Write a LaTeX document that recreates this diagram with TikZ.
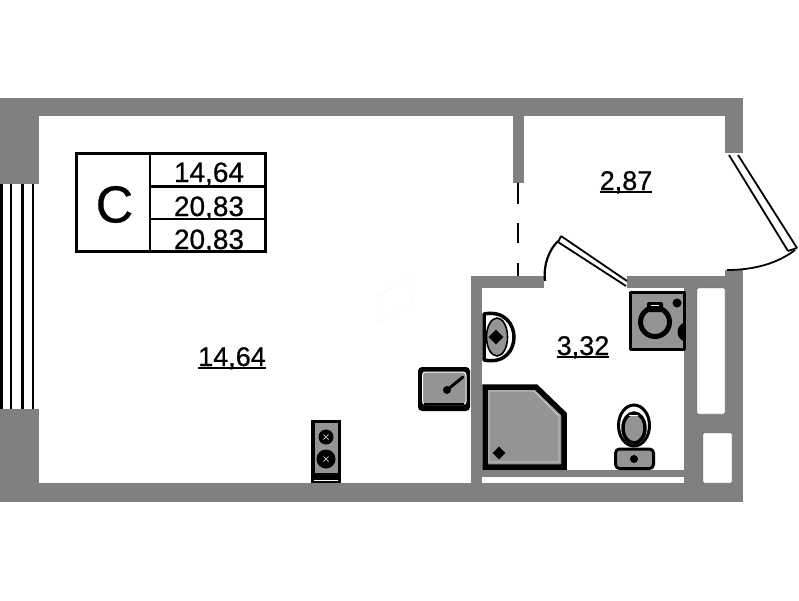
\documentclass[tikz,border=0pt]{standalone}
\usepackage{fontspec}
\setmainfont[RawFeature={embolden=0.6}]{Liberation Sans}
\usetikzlibrary{shapes.geometric}
\definecolor{wallgray}{gray}{0.5}
\definecolor{fixgray}{gray}{0.58}
\tikzset{
	wallpart/.style={fill=wallgray, draw=none},
	holepart/.style={fill=white, draw=wallgray!70!black, line width=0.4pt, rounded corners=1pt},
	fixture/.style={fill=fixgray, draw=black, line width=3pt, line join=round},
	tablenode/.style={font=\fontsize{28}{28}\selectfont, inner sep=0pt, anchor=base},
	arealabel/.style={font=\fontsize{27}{27}\selectfont, inner sep=0pt, anchor=base},
	underrule/.style={draw=black, line width=1.3pt},
	blackline/.style={draw=black, line width=1.8pt},
	winbar/.style={draw=black, line width=1.6pt},
	tablerule/.style={draw=black, line width=2.4pt}
}
\begin{document}
\begin{tikzpicture}[x=1pt, y=-1pt]
	\useasboundingbox (0,0) rectangle (799,600);

	\foreach \xa/\ya/\xb/\yb in {0/98/743/116, 0/116/39/184, 725/116/743/153, 513/116/524/183, 0/409/39/502, 0/483/743/502, 471/276/544/288, 471/288/482/483, 482/470/684/477, 627/276/743/288, 725/270/743/288, 684/288/743/502}
		\fill[wallpart] (\xa,\ya) rectangle (\xb,\yb);
	\draw[holepart] (697,288) rectangle (725,414);
	\draw[holepart] (703,433) rectangle (732,483);

	\foreach \x/\w in {1.5/3, 11/2, 22.5/2.6, 33/1.6}
		\draw[winbar, line width=\w pt] (\x,184) -- (\x,409);

	\draw[gray!12, line width=0.6pt, dash pattern=on 3pt off 3pt] (378,295) -- (410,278) -- (412,305) -- (378,322) -- cycle;

	\draw[blackline] (518,183) -- (518,204);
	\draw[blackline] (518,223) -- (518,243);
	\draw[blackline] (518,263) -- (518,276);

	\draw[blackline] (729,155) -- (788,251);
	\draw[blackline] (738,155) -- (797,248);
	\draw[blackline] (788,251) -- (797,248);
	\draw[blackline] (795,250) .. controls (778,263) and (755,270) .. (727,270);

	\draw[blackline] (561,236) -- (627,281);
	\draw[blackline] (558,242) -- (626,286);
	\draw[blackline] (561,236) -- (558,242);
	\draw[blackline, line width=2.2pt] (558,241) .. controls (549,250) and (543,265) .. (545,281);

	\fill[black, rounded corners=4pt] (418,367) rectangle (470,411);
	\draw[white, line width=1pt, fill=fixgray, rounded corners=3pt] (422.5,372) rectangle (466,404.5);
	\fill[black] (424,402.5) rectangle (464,404.5);
	\draw[black, line width=3pt, line cap=round] (447,390) -- (463,377);
	\fill[black] (447,390) circle (4);

	\draw[fixture, fill=white, line width=3.5pt] (484,314) .. controls (505,310) and (514,325) .. (514,337) .. controls (514,350) and (505,364) .. (484,360) -- cycle;
	\draw[black, line width=1.6pt, fill=fixgray] (497,337) ellipse (10.5 and 19);
	\node[diamond, fill=black, minimum size=15pt, inner sep=0pt] (drain) at (496,337) {};

	\draw[fixture, fill=fixgray, line width=5.5pt, line join=miter] (485,387) -- (536,387) -- (564,414) -- (564,467) -- (485,467) -- cycle;
	\draw[gray!35, line width=0.8pt] (489,391) -- (534,391) -- (559,416) -- (559,462) -- (489,462) -- cycle;
	\node[diamond, fill=black, minimum size=13pt, inner sep=0pt] (showerdrain) at (499,453) {};

	\draw[fixture] (630.5,292.5) rectangle (684,349);
	\fill[black] (677,303) circle (4.5);
	\fill[black] (685,322) .. controls (675,326) and (675,338) .. (685,342) -- cycle;
	\fill[black, rounded corners=2pt] (647,312) rectangle (663,302);
	\draw[black, line width=5pt] (655,322) circle (14.5);
	\draw[white, line width=1pt] (651,305) -- (659,305);

	\draw[fixture, line width=3pt, rounded corners=4pt] (615.5,449) rectangle (653.5,468.5);
	\fill[black] (634,459) circle (4);
	\draw[black, line width=3pt, fill=white] (634,425.5) ellipse (15.5 and 20.5);
	\draw[black, line width=3.5pt, fill=fixgray] (634,428) ellipse (11 and 15);
	\draw[white, line width=1pt] (629,415.5) -- (638,415.5);

	\fill[black] (311,420) rectangle (341,483);
	\fill[fixgray] (315,423) rectangle (338,473);
	\draw[white, line width=0.8pt] (314,480) -- (338,480);
	\foreach \y/\r in {437/7.5, 459/9.5}{
		\fill[black] (326,\y) circle (\r);
		\draw[gray!60, line width=1pt] (323.5,\y-2.5) -- (328.5,\y+2.5) (323.5,\y+2.5) -- (328.5,\y-2.5);
	}

	\draw[tablerule] (76.5,153.5) rectangle (265.5,251.5);
	\draw[tablerule] (150,153.5) -- (150,251.5);
	\draw[tablerule] (150,186.5) -- (265.5,186.5);
	\draw[tablerule, line width=1.8pt] (150,219) -- (265.5,219);
	\node[font=\fontsize{52}{52}\selectfont, inner sep=0pt] (sort) at (114.5,204.5) {C};
	\node[tablenode] (living) at (209,182) {14,64};
	\node[tablenode] (total) at (209,216) {20,83};
	\node[tablenode] (sum) at (209,249) {20,83};

	\node[arealabel] (hall) at (626,190) {2,87};
	\node[arealabel] (bath) at (583,355) {3,32};
	\node[arealabel] (room) at (232,366) {14,64};
	\foreach \lab in {hall, bath, room}
		\draw[underrule] ([yshift=-2pt]\lab.base west) -- ([yshift=-2pt]\lab.base east);
\end{tikzpicture}
\end{document}
